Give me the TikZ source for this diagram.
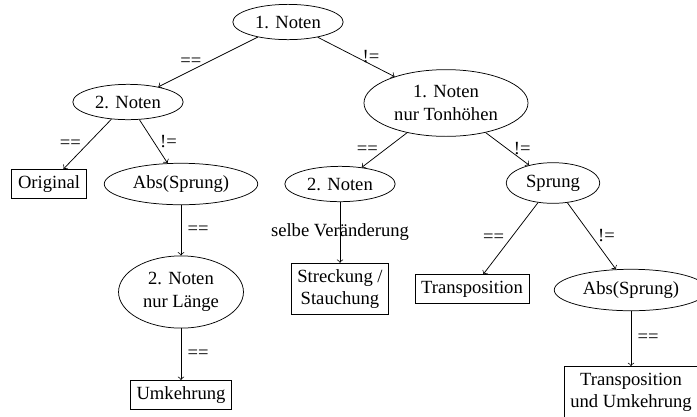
\documentclass[tikz,border=0pt]{standalone}
\usepackage{fontspec}
\setmainfont{Liberation Serif}
\usetikzlibrary{shapes.geometric}

\begin{document}
\begin{tikzpicture}[x=0.5375pt,y=-0.5375pt]
  \tikzset{test/.style={draw,ellipse,align=center},
           result/.style={draw,rectangle,align=center}}
  \useasboundingbox (0,0) rectangle (697,416);
  \node[test] (N1) at (288,22) {1. Noten};
  \node[test] (N2a) at (128,102) {2. Noten};
  \node[test] (N1t) at (446,103) {1. Noten\\nur Tonhöhen};
  \node[result] (Orig) at (49,184) {Original};
  \node[test] (Absa) at (181,184) {Abs(Sprung)};
  \node[test] (N2b) at (340,184) {2. Noten};
  \node[test] (Spr) at (553,183) {Sprung};
  \node[test] (N2l) at (181,292) {2. Noten\\nur Länge};
  \node[result] (Str) at (340,289) {Streckung /\\Stauchung};
  \node[result] (Tr) at (472,289) {Transposition};
  \node[test] (Absb) at (631,290) {Abs(Sprung)};
  \node[result] (Umk) at (181,395) {Umkehrung};
  \node[result] (TrU) at (631,392) {Transposition\\und Umkehrung};

\draw[->] (N1) -- node[left] {==} (N2a);
\draw[->] (N1) -- node[right] {!=} (N1t);
\draw[->] (N2a) -- node[left] {==} (Orig);
\draw[->] (N2a) -- node[right] {!=} (Absa);
\draw[->] (Absa) -- node[right] {==} (N2l);
\draw[->] (N2l) -- node[right] {==} (Umk);
\draw[->] (N1t) -- node[left] {==} (N2b);
\draw[->] (N1t) -- node[right] {!=} (Spr);
\draw[->] (N2b) -- node {selbe Veränderung} (Str);
\draw[->] (Spr) -- node[left] {==} (Tr);
\draw[->] (Spr) -- node[right] {!=} (Absb);
\draw[->] (Absb) -- node[right] {==} (TrU);

\end{tikzpicture}
\end{document}
